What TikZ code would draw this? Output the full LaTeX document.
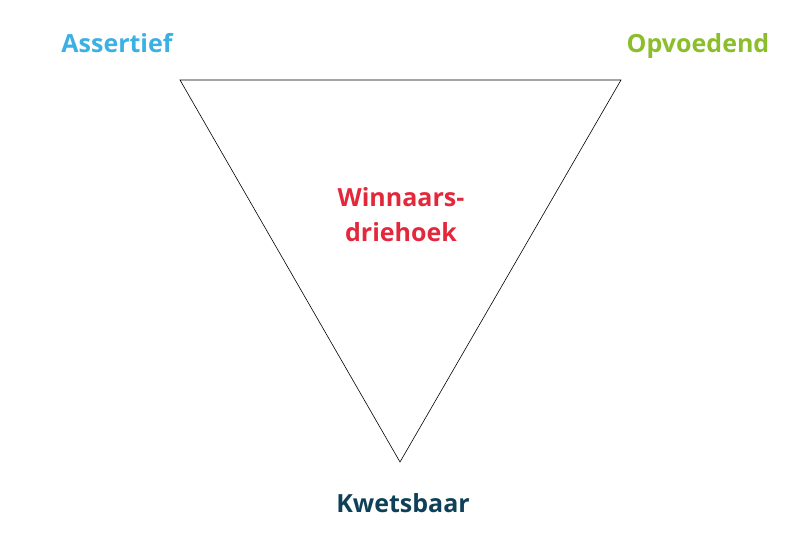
\documentclass[tikz,border=0pt]{standalone}
\usepackage{fontspec}
\setmainfont{Open Sans}
\usetikzlibrary{positioning}
\definecolor{assertBlue}{RGB}{59,176,227}
\definecolor{opvoedGreen}{RGB}{139,190,42}
\definecolor{winRed}{RGB}{227,40,60}
\definecolor{kwetsTeal}{RGB}{14,65,87}
\begin{document}
\begin{tikzpicture}[
    x=1pt, y=1pt,
    font=\bfseries\fontsize{25}{35}\selectfont,
    corner/.style={inner sep=0pt, anchor=base},
    edge/.style={draw=black, line width=0.6pt, line join=miter}
]
\useasboundingbox (0,0) rectangle (801,544);

% corners of the triangle
\coordinate (tl) at (180,464);
\coordinate (tr) at (621,464);
\coordinate (bt) at (400,82);

\draw[edge] (tl) -- (tr) -- (bt) -- cycle;

\node[corner, text=assertBlue] (assertief) at (117,491) {Assertief};
\node[corner, text=opvoedGreen] (opvoedend) at (698,491) {Opvoedend};
\node[corner, text=kwetsTeal] (kwetsbaar) at (403,32) {Kwetsbaar};
\node[inner sep=0pt, align=center, text=winRed] (winnaars) at (401,329) {Winnaars-\\driehoek};
\end{tikzpicture}
\end{document}
